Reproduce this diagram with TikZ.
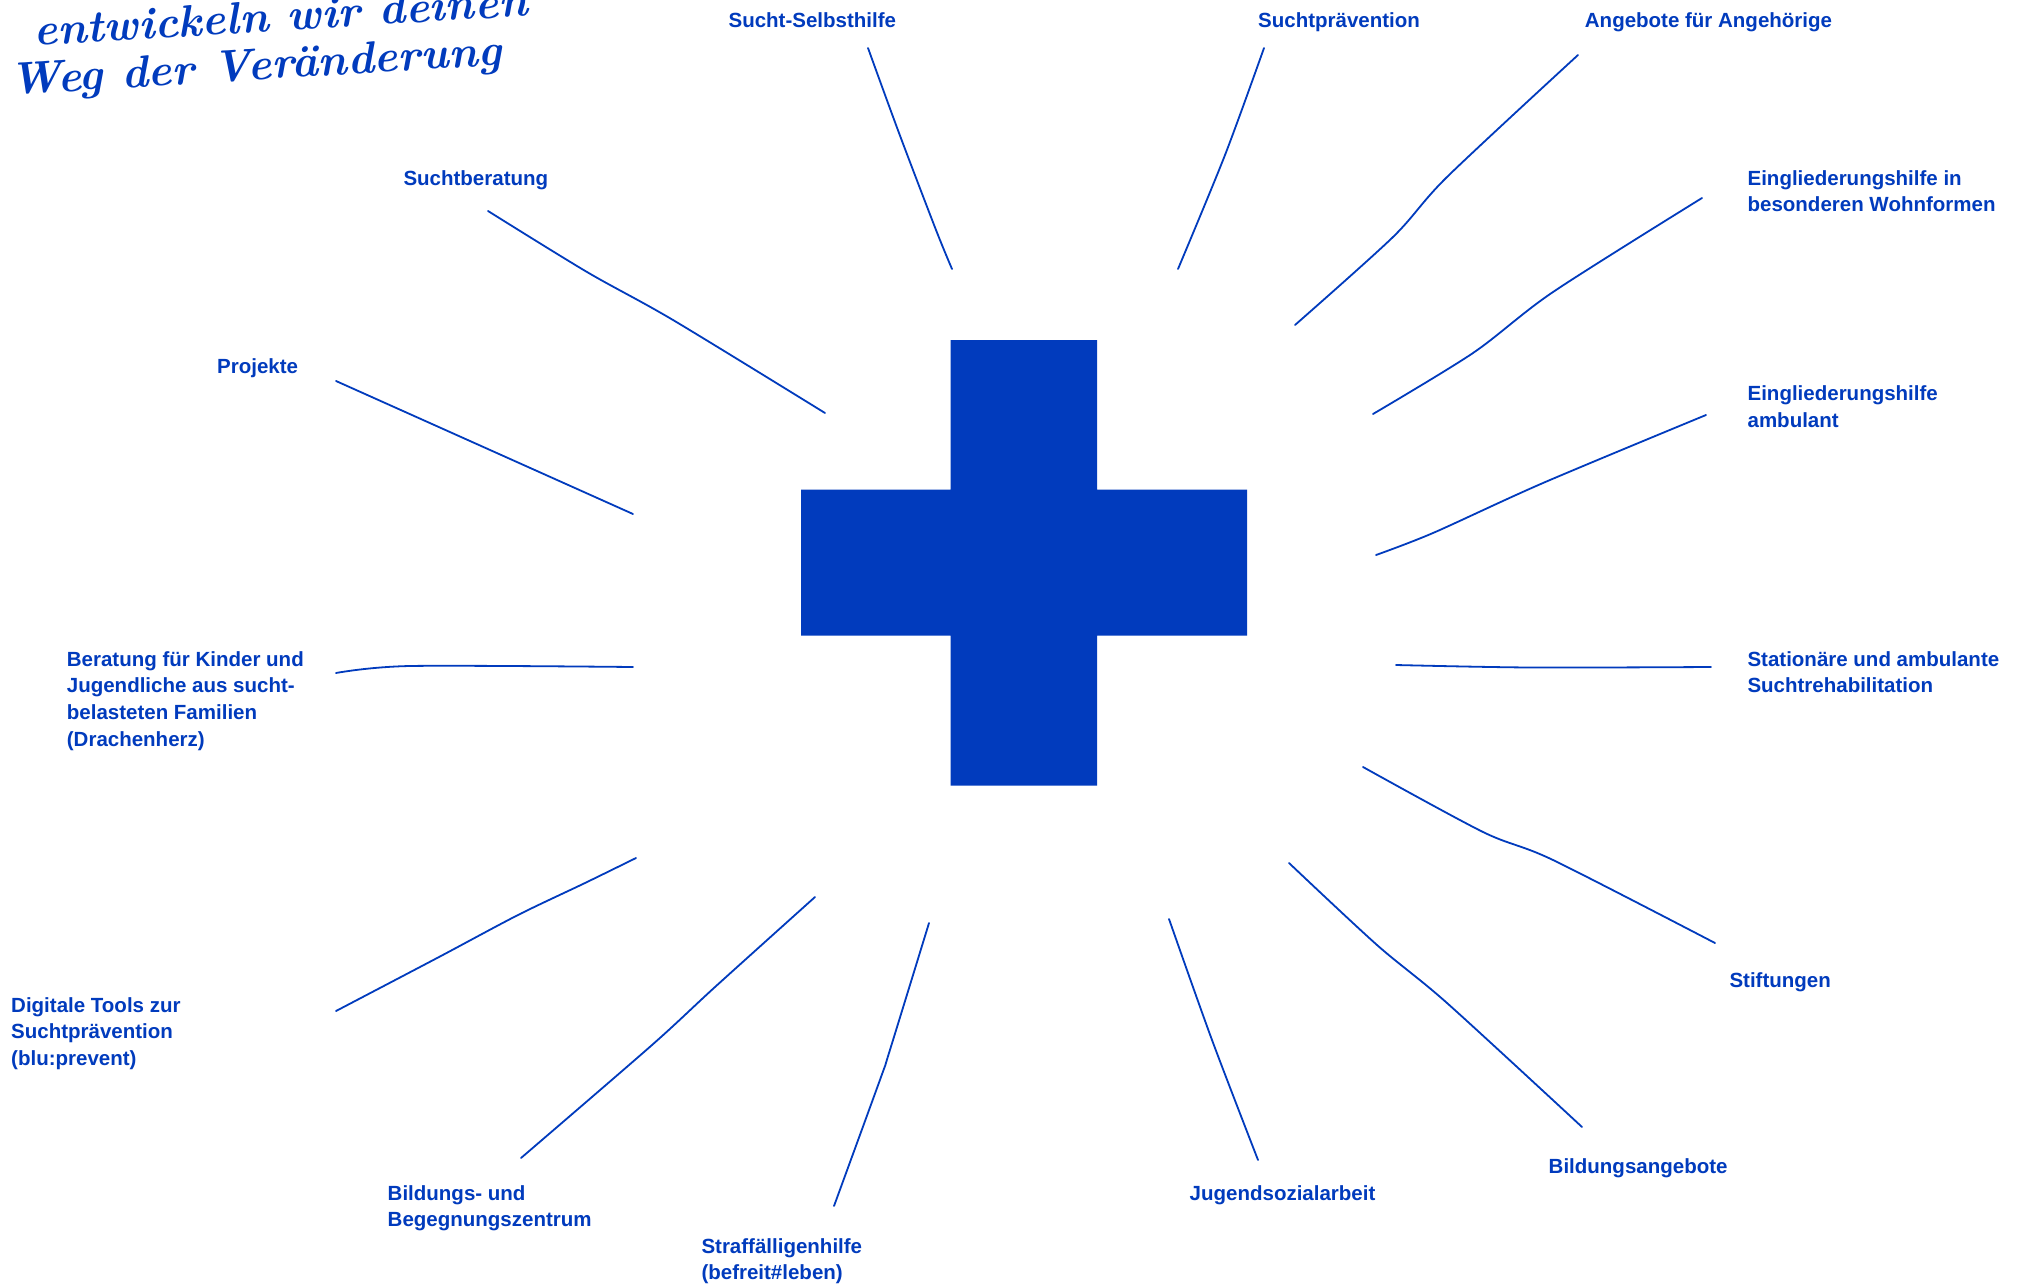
\documentclass[tikz,border=0pt]{standalone}
\usepackage{fontspec}
\newfontfamily\labelfont{Liberation Sans}
\definecolor{brand}{RGB}{1,59,189}
\tikzset{
  lbl/.style={anchor=north west, inner sep=0pt, align=left, text=brand,
    font=\labelfont\bfseries\fontsize{20.5}{26.7}\selectfont},
  ray/.style={draw=brand, line width=1.8pt, line cap=round, line join=round},
  hand/.style={anchor=base west, inner sep=0pt, text=brand,
    font=\bfseries\itshape\fontsize{45}{45}\selectfont, rotate=3.5}
}
\begin{document}
\begin{tikzpicture}[x=1pt,y=-1pt]
\useasboundingbox (0,0) rectangle (2025,1284);
\fill[white] (0,0) rectangle (2025,1284);
\clip (0,0) rectangle (2025,1284);

% handwritten heading (top cut off)
\node[hand] (hw1) at (34,46) {entwickeln wir deinen};
\node[hand] (hw2) at (10,95) {Weg der Veränderung};

% central cross
\fill[brand] (950.7,340) -- (1097,340) -- (1097,489.7) -- (1247,489.7) -- (1247,635.7)
  -- (1097,635.7) -- (1097,785.7) -- (950.7,785.7) -- (950.7,635.7) -- (801,635.7)
  -- (801,489.7) -- (950.7,489.7) -- cycle;

% labels
\node[lbl] (selbst) at (728.4,12) {Sucht-Selbsthilfe};
\node[lbl] (praev) at (1258,12) {Suchtprävention};
\node[lbl] (angeh) at (1584.7,12) {Angebote für Angehörige};
\node[lbl] (beratung) at (403.3,170) {Suchtberatung};
\node[lbl] (wohn) at (1747.4,170) {Eingliederungshilfe in\\besonderen Wohnformen};
\node[lbl] (projekte) at (217,358) {Projekte};
\node[lbl] (ambulant) at (1747.4,385.5) {Eingliederungshilfe\\ambulant};
\node[lbl] (kinder) at (66.7,651) {Beratung für Kinder und\\Jugendliche aus sucht-\\belasteten Familien\\(Drachenherz)};
\node[lbl] (reha) at (1747.3,651) {Stationäre und ambulante\\Suchtrehabilitation};
\node[lbl] (stift) at (1729.3,972) {Stiftungen};
\node[lbl] (digital) at (11,997) {Digitale Tools zur\\Suchtprävention\\(blu:prevent)};
\node[lbl] (bildang) at (1548.5,1158) {Bildungsangebote};
\node[lbl] (begegn) at (387.5,1185) {Bildungs- und\\Begegnungszentrum};
\node[lbl] (jugend) at (1189.5,1185) {Jugendsozialarbeit};
\node[lbl] (straf) at (701.3,1238) {Straffälligenhilfe\\(befreit\#leben)};

% ray end points (outer / inner)
\coordinate (r1o) at (868,48);   \coordinate (r1i) at (952,269);
\coordinate (r2o) at (1264,48);  \coordinate (r2i) at (1178,269);
\coordinate (r3o) at (1578,55);  \coordinate (r3i) at (1295,325);
\coordinate (r4o) at (1702,198); \coordinate (r4i) at (1373,414);
\coordinate (r5o) at (1706,415); \coordinate (r5i) at (1376,555);
\coordinate (r6o) at (1711,667); \coordinate (r6i) at (1396,665);
\coordinate (r7o) at (1715,943); \coordinate (r7i) at (1363,767);
\coordinate (r8o) at (1582,1127);\coordinate (r8i) at (1289,863);
\coordinate (r9o) at (1258,1160);\coordinate (r9i) at (1169,919);
\coordinate (r10o) at (834,1206);\coordinate (r10i) at (929,923);
\coordinate (r11o) at (521,1158);\coordinate (r11i) at (815,897);
\coordinate (r12o) at (336,1011);\coordinate (r12i) at (636,858);
\coordinate (r13o) at (336,673); \coordinate (r13i) at (633,667);
\coordinate (r14o) at (336,381); \coordinate (r14i) at (633,514);
\coordinate (r15o) at (488,211); \coordinate (r15i) at (825,413);

% rays
\draw[ray] plot[smooth, tension=0.5] coordinates {(r1o) (899,133) (936,230) (r1i)};
\draw[ray] plot[smooth, tension=0.5] coordinates {(r2o) (1225,155) (r2i)};
\draw[ray] plot[smooth, tension=0.5] coordinates {(r3o) (1447,177) (1393,237) (r3i)};
\draw[ray] plot[smooth, tension=0.5] coordinates {(r4o) (1553,292) (1473,353) (r4i)};
\draw[ray] plot[smooth, tension=0.5] coordinates {(r5o) (1543,483) (1433,533) (r5i)};
\draw[ray] plot[smooth, tension=0.5] coordinates {(r6o) (1530,667.5) (r6i)};
\draw[ray] plot[smooth, tension=0.5] coordinates {(r7o) (1553,860) (1483,832) (r7i)};
\draw[ray] plot[smooth, tension=0.5] coordinates {(r8o) (1447,1003) (1377,945) (r8i)};
\draw[ray] plot[smooth, tension=0.5] coordinates {(r9o) (1212,1040) (r9i)};
\draw[ray] plot[smooth, tension=0.5] coordinates {(r10o) (881,1077) (889,1053) (r10i)};
\draw[ray] plot[smooth, tension=0.5] coordinates {(r11o) (652,1045) (715,987) (r11i)};
\draw[ray] plot[smooth, tension=0.5] coordinates {(r12o) (439,957) (518,915) (585,883) (r12i)};
\draw[ray] plot[smooth, tension=0.5] coordinates {(r13o) (410,666) (r13i)};
\draw[ray] (r14o) -- (r14i);
\draw[ray] plot[smooth, tension=0.5] coordinates {(r15o) (587,272) (673,320) (r15i)};
\end{tikzpicture}
\end{document}
